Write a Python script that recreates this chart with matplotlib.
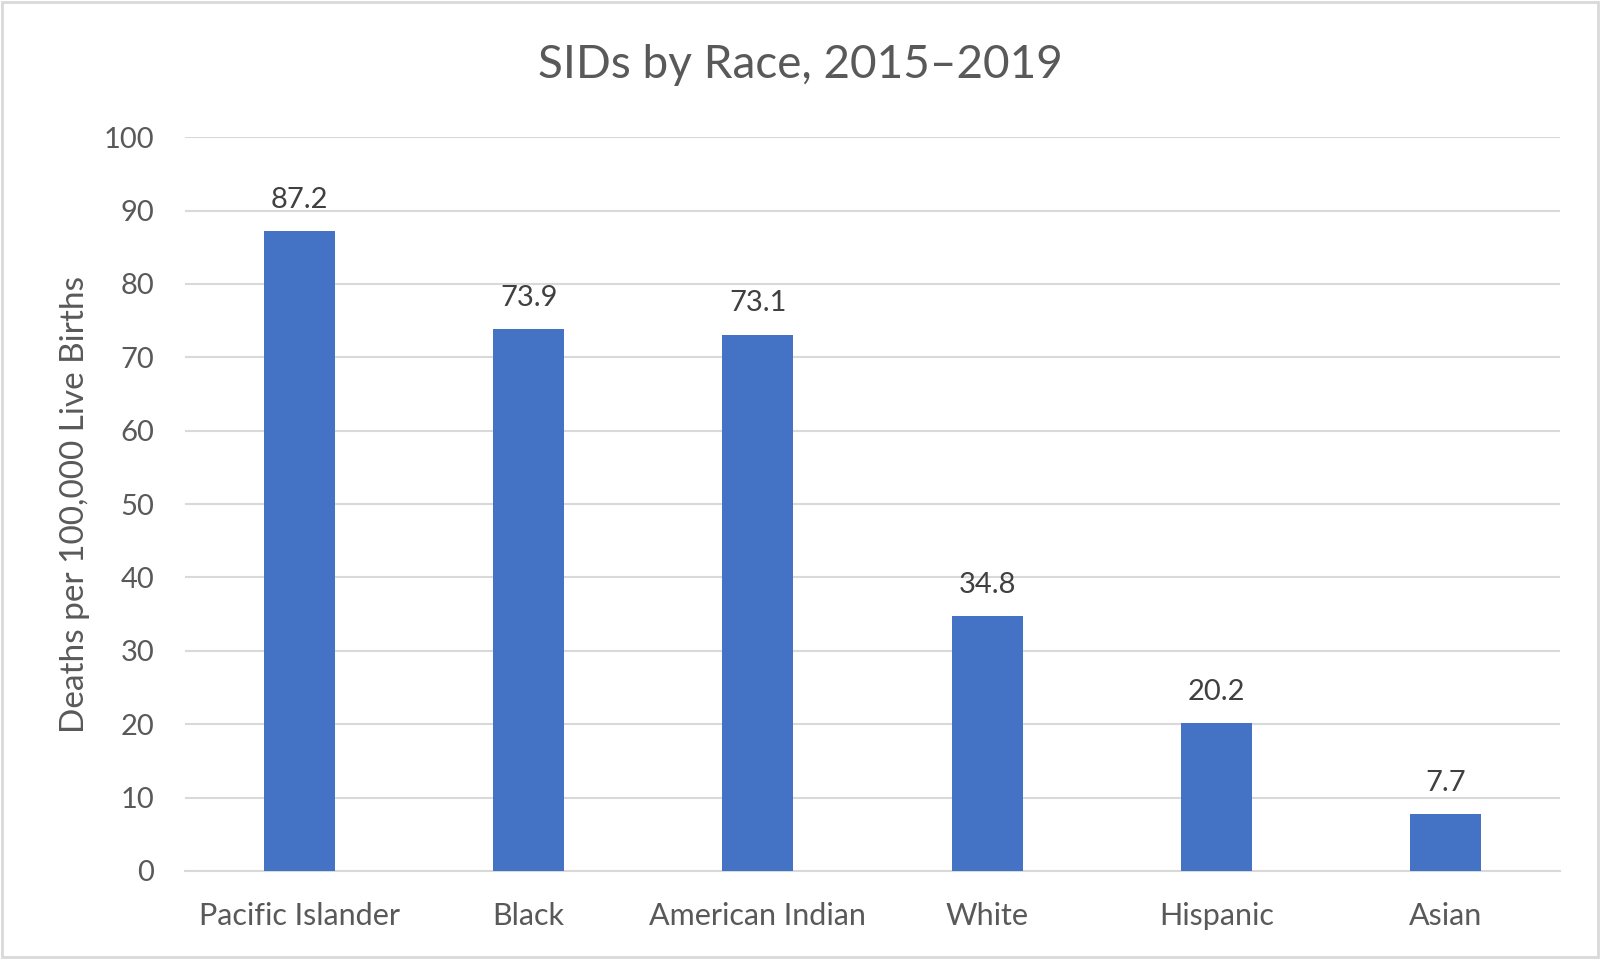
import matplotlib
matplotlib.use("Agg")
import matplotlib.pyplot as plt
from matplotlib.patches import Rectangle

categories = ["Pacific Islander", "Black", "American Indian", "White", "Hispanic", "Asian"]
values = [87.2, 73.9, 73.1, 34.8, 20.2, 7.7]
yticks = [0, 10, 20, 30, 40, 50, 60, 70, 80, 90, 100]
title = "SIDs by Race, 2015\u20132019"
ylabel = "Deaths per 100,000 Live Births"

plt.rcParams['font.family'] = ['Lato', 'DejaVu Sans']

fig = plt.figure(figsize=(16, 9.59), dpi=100)
ax = fig.add_axes([0.1156, 0.0918, 0.975 - 0.1156, 0.857 - 0.0918])

x = list(range(len(categories)))
bars = ax.bar(x, values, width=0.31, color="#4472C4", zorder=3)
ax.set_xlim(-0.5, len(categories) - 0.5)
ax.set_ylim(0, 100)
ax.set_yticks(yticks)
ax.set_xticks(x)
ax.set_xticklabels(categories)
ax.tick_params(axis='y', length=0, labelsize=21, colors="#595959", pad=22)
ax.tick_params(axis='x', length=0, labelsize=22, colors="#595959", pad=22)
ax.grid(axis='y', color="#D9D9D9", linewidth=1.5, zorder=0)
for s in ["top", "right", "left"]:
    ax.spines[s].set_visible(False)
ax.spines["bottom"].set_color("#D9D9D9")
ax.spines["bottom"].set_linewidth(1.5)

for xi, v in zip(x, values):
    ax.annotate(f"{v:.1f}", (xi, v), xytext=(0, 13), textcoords="offset points",
                ha="center", va="bottom", fontsize=21, color="#404040")

ax.set_ylabel(ylabel, fontsize=24, color="#595959", labelpad=10)
fig.text(0.5, 0.932, title, ha="center", va="center", fontsize=33, color="#595959")

fig.patches.append(Rectangle((0.0015, 0.002), 0.997, 0.996, transform=fig.transFigure,
                             fill=False, edgecolor="#D9D9D9", linewidth=2))

fig.savefig("out.png", dpi=100, facecolor="white")
